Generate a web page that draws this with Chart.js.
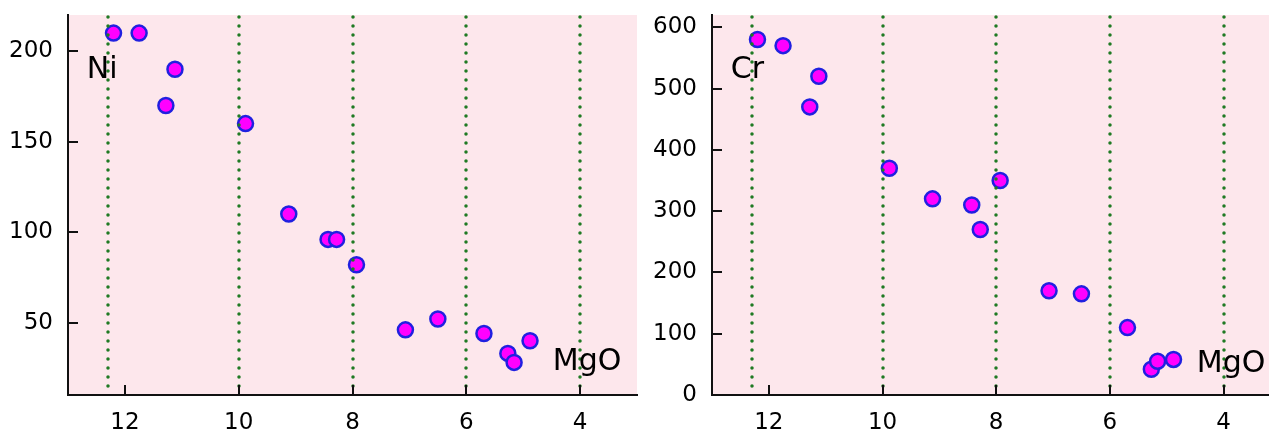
<!DOCTYPE html>
<html><head><meta charset="utf-8">
<script src="https://cdn.jsdelivr.net/npm/chart.js@4.4.1/dist/chart.umd.min.js"></script>
<style>
html,body{margin:0;padding:0;background:#fff;width:1269px;height:432px;overflow:hidden}
#c1{position:absolute;left:0;top:0}
#c2{position:absolute;left:644px;top:0}
</style></head><body>
<canvas id="c1" width="640" height="432"></canvas>
<canvas id="c2" width="625" height="432"></canvas>
<script>
// ---- data ----
const mgo = [12.2, 11.75, 11.12, 11.28, 9.88, 9.12, 8.43, 8.28, 7.93, 7.07, 6.5, 5.69, 5.27, 5.16, 4.88];
const ni  = [210, 210, 190, 170, 160, 110, 96, 96, 82, 46, 52, 44, 33, 28, 40];
const cr  = [580, 570, 520, 470, 370, 320, 310, 270, 350, 170, 165, 110, 42, 55, 58];
const xTicks  = [12, 10, 8, 6, 4];
const niTicks = [50, 100, 150, 200];
const crTicks = [0, 100, 200, 300, 400, 500, 600];
const guideX  = [12.3, 10, 8, 6, 4];
const niLabelText = ['Ni', 'MgO'];
const niLabelX = [12.67, 4.48];
const niLabelY = [185, 24];
const crLabelText = ['Cr', 'MgO'];
const crLabelX = [12.67, 4.47];
const crLabelY = [517, 37];

const PINK = '#fde7ec';
const GREEN = '#1f7a23';
const FONT = 'DejaVu Sans';

const deco = {
  id: 'deco',
  beforeDraw(chart) {
    const a = chart.chartArea, c = chart.ctx;
    c.save();
    c.fillStyle = PINK;
    c.fillRect(a.left, a.top, a.right - a.left, a.bottom - a.top);
    c.restore();
  },
  afterDatasetsDraw(chart) {
    const a = chart.chartArea, c = chart.ctx, xs = chart.scales.x;
    c.save();
    c.strokeStyle = GREEN;
    c.lineWidth = 3.5;
    c.lineCap = 'round';
    c.setLineDash([0.1, 8.9]);
    guideX.forEach(v => {
      const px = Math.round(xs.getPixelForValue(v));
      c.beginPath();
      c.moveTo(px, a.top + 2);
      c.lineTo(px, a.bottom - 4);
      c.stroke();
    });
    c.restore();
  },
  afterDraw(chart, args, opts) {
    const a = chart.chartArea, c = chart.ctx, xs = chart.scales.x, ys = chart.scales.y;
    c.save();
    c.strokeStyle = '#111';
    c.lineWidth = 2;
    xs.ticks.forEach(t => {
      const px = Math.round(xs.getPixelForValue(t.value));
      c.beginPath(); c.moveTo(px, a.bottom); c.lineTo(px, a.bottom - 10); c.stroke();
    });
    ys.ticks.forEach(t => {
      const py = Math.round(ys.getPixelForValue(t.value));
      c.beginPath(); c.moveTo(a.left, py); c.lineTo(a.left + 10, py); c.stroke();
    });
    c.fillStyle = '#000';
    c.font = '30px "' + FONT + '"';
    c.textAlign = 'left';
    c.textBaseline = 'alphabetic';
    opts.text.forEach((s, i) => {
      c.fillText(s, xs.getPixelForValue(opts.lx[i]), ys.getPixelForValue(opts.ly[i]));
    });
    c.restore();
  }
};

function makeChart(id, yVals, yMin, yMax, yTicks, xMin, padRight, text, lx, ly) {
  return new Chart(document.getElementById(id), {
    type: 'scatter',
    data: {
      datasets: [{
        data: mgo.map((m, i) => ({ x: m, y: yVals[i] })),
        backgroundColor: '#ff00ff',
        borderColor: '#2020e0',
        borderWidth: 2.5,
        pointRadius: 7.5,
        pointHoverRadius: 7.5,
        clip: false
      }]
    },
    options: {
      responsive: false,
      animation: false,
      events: [],
      layout: { autoPadding: false, padding: { top: 15, right: padRight, left: 0, bottom: 0 } },
      plugins: {
        legend: { display: false },
        tooltip: { enabled: false },
        deco: { text: text, lx: lx, ly: ly }
      },
      scales: {
        x: {
          type: 'linear',
          min: xMin, max: 13, reverse: true,
          afterBuildTicks: ax => { ax.ticks = xTicks.map(v => ({ value: v })); },
          afterFit: ax => { ax.height = 37; ax.paddingLeft = 0; ax.paddingRight = 0; },
          grid: { display: false, drawTicks: false },
          border: { display: true, color: '#111', width: 2 },
          ticks: { color: '#000', font: { family: FONT, size: 23 }, padding: 14 }
        },
        y: {
          type: 'linear',
          min: yMin, max: yMax,
          afterBuildTicks: ax => { ax.ticks = yTicks.map(v => ({ value: v })); },
          afterFit: ax => { ax.width = 68; ax.paddingTop = 0; ax.paddingBottom = 0; },
          grid: { display: false, drawTicks: false },
          border: { display: true, color: '#111', width: 2 },
          ticks: { color: '#000', font: { family: FONT, size: 23 }, padding: 15 }
        }
      }
    },
    plugins: [deco]
  });
}

makeChart('c1', ni, 10, 220, niTicks, 3, 3, niLabelText, niLabelX, niLabelY);
makeChart('c2', cr, 0, 620, crTicks, 3.2, 0, crLabelText, crLabelX, crLabelY);
</script>
</body></html>
